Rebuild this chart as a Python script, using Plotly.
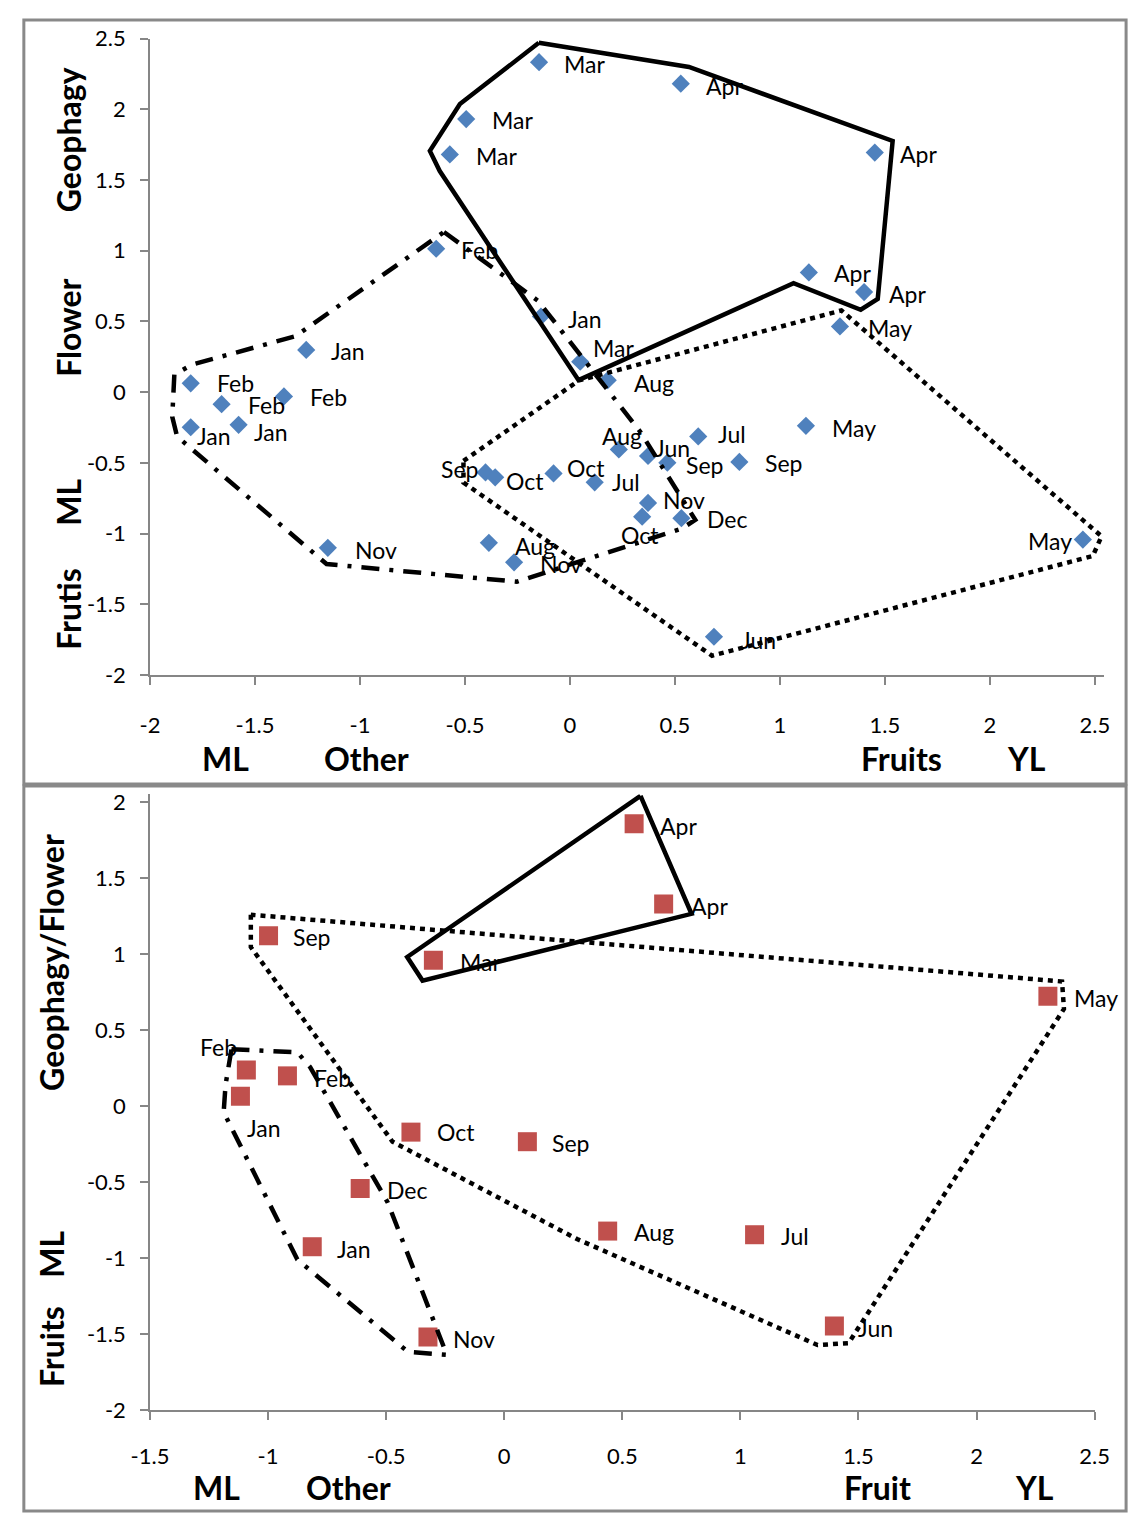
import plotly.graph_objects as go

W, H = 1144, 1525
FONT = "Lato"

# ---------------- Top panel ----------------
top_month = ["Mar", "Apr", "Mar", "Mar", "Apr", "Feb", "Apr", "Apr", "May", "Jan",
             "Jan", "Mar", "Aug", "Feb", "Feb", "Feb", "Jan", "Jan", "May", "Jul",
             "Aug", "Jun", "Sep", "Sep", "Sep", "Oct", "Oct", "Jul", "Nov", "Oct",
             "Dec", "Nov", "Aug", "Nov", "May", "Jun"]
top_x = [-0.147, 0.528, -0.494, -0.572, 1.452, -0.637, 1.138, 1.401, 1.286, -0.138,
         -1.256, 0.049, 0.180, -1.806, -1.362, -1.659, -1.806, -1.578, 1.124, 0.611,
         0.233, 0.372, 0.464, 0.807, -0.402, -0.356, -0.078, 0.118, 0.372, 0.344,
         0.531, -1.153, -0.386, -0.266, 2.443, 0.686]
top_y = [2.333, 2.181, 1.931, 1.681, 1.694, 1.014, 0.847, 0.708, 0.465, 0.535,
         0.299, 0.215, 0.085, 0.0625, -0.030, -0.085, -0.248, -0.231, -0.238, -0.3125,
         -0.405, -0.451, -0.498, -0.493, -0.567, -0.602, -0.574, -0.637, -0.783, -0.880,
         -0.891, -1.100, -1.065, -1.203, -1.042, -1.729]

# hull outlines (top)
top_solid_x = [-0.148, 0.567, 1.537, 1.466, 1.385, 1.065, 0.041, -0.620, -0.667, -0.524, -0.148]
top_solid_y = [2.470, 2.299, 1.776, 0.660, 0.583, 0.771, 0.085, 1.563, 1.706, 2.037, 2.470]
top_dot_x = [-0.507, 0.043, 1.293, 2.532, 2.490, 0.677, -0.507, -0.507]
top_dot_y = [-0.486, 0.083, 0.578, -1.019, -1.158, -1.863, -0.639, -0.486]
top_dash_x = [-0.600, -0.152, 0.334, 0.597, 0.532, -0.253, -1.159, -1.871, -1.894, -1.884, -1.801, -1.307, -0.600]
top_dash_y = [1.132, 0.646, -0.278, -0.903, -0.965, -1.340, -1.215, -0.313, -0.174, 0.125, 0.194, 0.396, 1.132]

top_xticks = [-2, -1.5, -1, -0.5, 0, 0.5, 1, 1.5, 2, 2.5]
top_xtick_text = ["-2", "-1.5", "-1", "-0.5", "0", "0.5", "1", "1.5", "2", "2.5"]
top_yticks = [-2, -1.5, -1, -0.5, 0, 0.5, 1, 1.5, 2, 2.5]
top_ytick_text = ["-2", "-1.5", "-1", "-0.5", "0", "0.5", "1", "1.5", "2", "2.5"]

# ---------------- Bottom panel ----------------
bot_month = ["Apr", "Apr", "Sep", "Mar", "May", "Feb", "Feb", "Jan", "Oct", "Sep",
             "Dec", "Aug", "Jul", "Jan", "Jun", "Nov"]
bot_x = [0.550, 0.675, -0.998, -0.300, 2.302, -1.092, -0.918, -1.117, -0.395, 0.098,
         -0.610, 0.438, 1.060, -0.813, 1.398, -0.323]
bot_y = [1.856, 1.328, 1.119, 0.958, 0.721, 0.236, 0.197, 0.063, -0.173, -0.236,
         -0.544, -0.824, -0.848, -0.927, -1.449, -1.520]

bot_solid_x = [0.577, 0.793, -0.346, -0.411, 0.577]
bot_solid_y = [2.039, 1.263, 0.824, 0.979, 2.039]
bot_dot_x = [-1.073, -1.073, -0.473, 0.308, 1.327, 1.458, 2.370, 2.362, -1.073]
bot_dot_y = [1.257, 1.044, -0.236, -0.876, -1.574, -1.561, 0.637, 0.818, 1.257]
bot_dash_x = [-1.155, -0.876, -0.822, -0.493, -0.243, -0.407, -0.876, -1.188, -1.180, -1.155]
bot_dash_y = [0.372, 0.352, 0.255, -0.637, -1.638, -1.619, -1.011, -0.042, 0.139, 0.372]

bot_xticks = [-1.5, -1, -0.5, 0, 0.5, 1, 1.5, 2, 2.5]
bot_xtick_text = ["-1.5", "-1", "-0.5", "0", "0.5", "1", "1.5", "2", "2.5"]
bot_yticks = [-2, -1.5, -1, -0.5, 0, 0.5, 1, 1.5, 2]
bot_ytick_text = ["-2", "-1.5", "-1", "-0.5", "0", "0.5", "1", "1.5", "2"]

# ---------------- label placement (style: pixel offsets, anchor) ----------------
top_label_place = [(25, 2, 'l'), (25, 2, 'l'), (26, 1, 'l'), (26, 2, 'l'), (25, 1, 'l'), (25, 1, 'l'),
                   (25, 1, 'l'), (25, 2, 'l'), (28, 2, 'l'), (27, 2, 'l'), (25, 1, 'l'), (13, -14, 'l'),
                   (26, 3, 'l'), (26, 0, 'l'), (26, 1, 'l'), (26, 1, 'l'), (6, 9, 'l'), (15, 7, 'l'),
                   (26, 2, 'l'), (20, -2, 'l'), (3, -13, 'c'), (7, -8, 'l'), (19, 2, 'l'), (26, 1, 'l'),
                   (-8, -3, 'r'), (11, 4, 'l'), (13, -5, 'l'), (17, 0, 'l'), (15, -3, 'l'), (-2, 18, 'c'),
                   (26, 1, 'l'), (27, 2, 'l'), (26, 3, 'l'), (26, 2, 'l'), (-11, 1, 'r'), (27, 3, 'l')]
bot_label_place = [(26, 2, 'l'), (27, 2, 'l'), (24, 1, 'l'), (27, 2, 'l'), (26, 2, 'l'), (-9, -23, 'r'),
                   (27, 2, 'l'), (7, 32, 'l'), (26, 0, 'l'), (25, 1, 'l'), (27, 1, 'l'), (26, 1, 'l'),
                   (26, 1, 'l'), (25, 2, 'l'), (24, 2, 'l'), (25, 2, 'l')]

BLUE = "#4F81BD"
RED = "#C0504D"
AXIS_C = "#868686"


def px_x(p):
    return p / W


def px_y(p):
    return 1 - p / H


fig = go.Figure()

# markers
fig.add_trace(go.Scatter(x=top_x, y=top_y, mode="markers", xaxis="x", yaxis="y",
                         marker=dict(symbol="diamond", size=14, color=BLUE, line=dict(width=0))))
fig.add_trace(go.Scatter(x=bot_x, y=bot_y, mode="markers", xaxis="x2", yaxis="y2",
                         marker=dict(symbol="square", size=19, color=RED, line=dict(width=0))))

DOT = "5px,5px"
DASHDOT = "18px,10px,4px,10px"

for xs, ys, dash, w, ax, ay in [
    (top_solid_x, top_solid_y, "solid", 4.5, "x", "y"),
    (top_dot_x, top_dot_y, DOT, 4.5, "x", "y"),
    (top_dash_x, top_dash_y, DASHDOT, 4.5, "x", "y"),
    (bot_solid_x, bot_solid_y, "solid", 4.5, "x2", "y2"),
    (bot_dot_x, bot_dot_y, DOT, 4.5, "x2", "y2"),
    (bot_dash_x, bot_dash_y, DASHDOT, 4.5, "x2", "y2"),
]:
    fig.add_trace(go.Scatter(x=xs, y=ys, mode="lines", xaxis=ax, yaxis=ay,
                             line=dict(color="black", width=w, dash=dash)))

annotations = []


def add_labels(xs, ys, texts, places, xr, yr):
    for x, y, t, (dx, dy, a) in zip(xs, ys, texts, places):
        anchor = {'l': 'left', 'r': 'right', 'c': 'center'}[a]
        sh = -2 if a == 'l' else (2 if a == 'r' else 0)
        annotations.append(dict(x=x, y=y, xref=xr, yref=yr, text=t, showarrow=False,
                                xanchor=anchor, yanchor="middle", xshift=dx + sh, yshift=-dy,
                                font=dict(family=FONT, size=23, color="black")))


add_labels(top_x, top_y, top_month, top_label_place, "x", "y")
add_labels(bot_x, bot_y, bot_month, bot_label_place, "x2", "y2")

# axis title words
title_font = dict(family=FONT, size=32, color="black")
x_titles = [("ML", 213, 758), ("Other", 358, 758), ("Fruits", 910, 758), ("YL", 1038, 758),
            ("ML", 204, 1500), ("Other", 340, 1500), ("Fruit", 885, 1500), ("YL", 1047, 1500)]
y_titles = [("Geophagy", 51, 128), ("Flower", 51, 319), ("ML", 51, 497), ("Frutis", 51, 606),
            ("Geophagy/Flower", 34, 965), ("ML", 34, 1262), ("Fruits", 34, 1356)]
for t, x, y in x_titles:
    annotations.append(dict(x=px_x(x), y=px_y(y), xref="paper", yref="paper", text="<b>%s</b>" % t,
                            showarrow=False, xanchor="center", yanchor="middle", borderpad=0,
                            font=title_font))
for t, x, y in y_titles:
    annotations.append(dict(x=px_x(x), y=px_y(y), xref="paper", yref="paper", text="<b>%s</b>" % t,
                            showarrow=False, xanchor="center", yanchor="middle", borderpad=0,
                            textangle=-90, font=title_font))

# panel borders
shapes = [
    dict(type="rect", xref="paper", yref="paper", x0=px_x(5), x1=px_x(1141), y0=px_y(784), y1=px_y(6),
         line=dict(color="#898989", width=3)),
    dict(type="rect", xref="paper", yref="paper", x0=px_x(5), x1=px_x(1141), y0=px_y(1524), y1=px_y(786),
         line=dict(color="#898989", width=3)),
]

tick_font = dict(family=FONT, size=22, color="black")
axis_common = dict(showgrid=False, zeroline=False, showline=True, linecolor=AXIS_C, linewidth=1.5,
                   ticks="outside", ticklen=8, tickcolor=AXIS_C, tickwidth=1.5, tickfont=tick_font,
                   fixedrange=True)

top_xmax = 2.545
bot_ymax = 2.05
fig.update_layout(
    width=W, height=H,
    margin=dict(l=0, r=0, t=0, b=0),
    paper_bgcolor="white", plot_bgcolor="white",
    showlegend=False, hovermode=False,
    xaxis=dict(domain=[px_x(135), px_x(135 + (top_xmax + 2) * 216.4)], range=[-2, top_xmax],
               anchor="y", tickvals=top_xticks, ticktext=top_xtick_text, ticklabelstandoff=22,
               **axis_common),
    yaxis=dict(domain=[px_y(673), px_y(25)], range=[-2, 2.5], anchor="x",
               tickvals=top_yticks, ticktext=top_ytick_text, ticklabelstandoff=10, **axis_common),
    xaxis2=dict(domain=[px_x(135), px_x(135 + 4 * 243.4)], range=[-1.5, 2.5], anchor="y2",
                tickvals=bot_xticks, ticktext=bot_xtick_text, ticklabelstandoff=18, **axis_common),
    yaxis2=dict(domain=[px_y(1421), px_y(802 - (bot_ymax - 2) * 154.75)], range=[-2, bot_ymax],
                anchor="x2", tickvals=bot_yticks, ticktext=bot_ytick_text, ticklabelstandoff=10,
                **axis_common),
    annotations=annotations,
    shapes=shapes,
)

fig.write_html("out.html", config={"displayModeBar": False, "responsive": False},
               post_script="document.body.style.margin='0';document.body.style.overflow='hidden';")
